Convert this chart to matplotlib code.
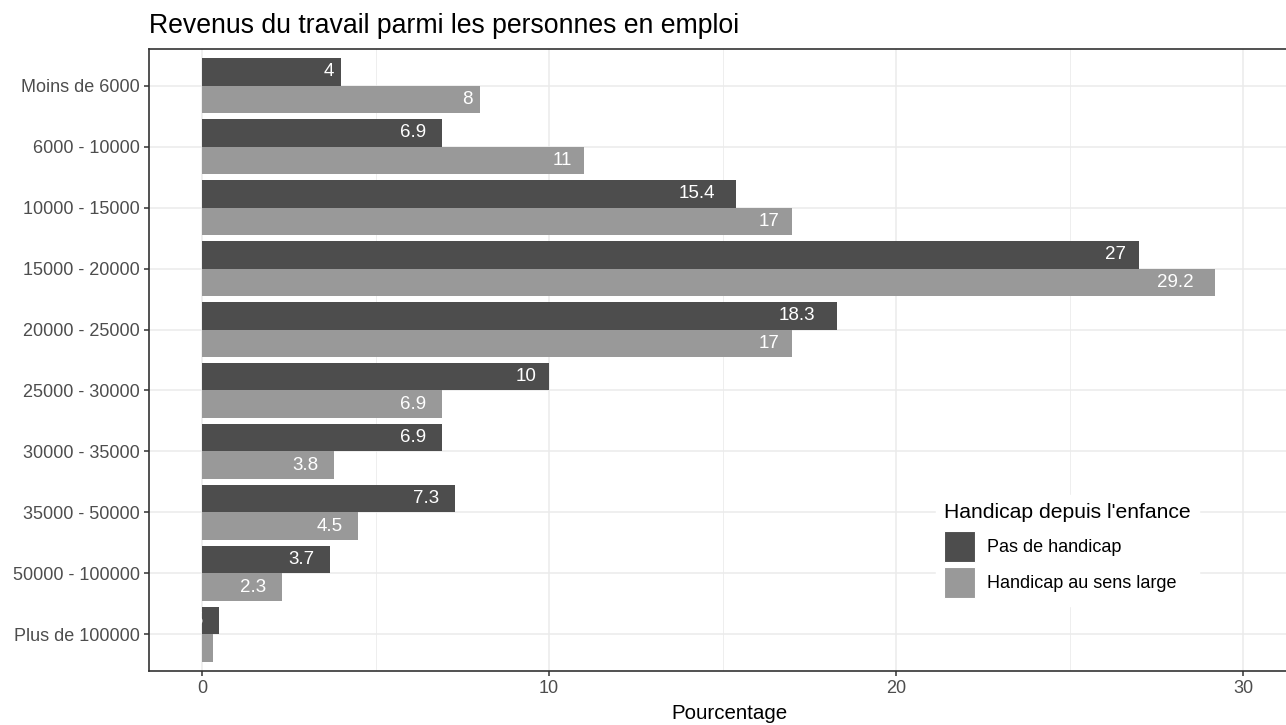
import numpy as np
import matplotlib.pyplot as plt
from matplotlib.patches import Patch
from matplotlib.transforms import ScaledTranslation

plt.rcParams['font.family'] = ['Liberation Sans', 'DejaVu Sans']

# ---- Data ----
categories = ["Moins de 6000", "6000 - 10000", "10000 - 15000", "15000 - 20000",
              "20000 - 25000", "25000 - 30000", "30000 - 35000", "35000 - 50000",
              "50000 - 100000", "Plus de 100000"]
pas_handicap = [4, 6.9, 15.4, 27, 18.3, 10, 6.9, 7.3, 3.7, 0.5]
handicap_large = [8, 11, 17, 29.2, 17, 6.9, 3.8, 4.5, 2.3, 0.3]
series_names = ["Pas de handicap", "Handicap au sens large"]
colors = ["#4D4D4D", "#999999"]

W, H = 1286, 725
fig = plt.figure(figsize=(W / 100, H / 100), dpi=100)
ax = fig.add_axes([149 / W, 54 / H, (1316 - 149) / W, (671 - 49) / H])

n = len(categories)
ypos = np.arange(1, n + 1)
h = 0.45

# dark bar on top, light below (y axis inverted)
ax.barh(ypos - h / 2, pas_handicap, height=h, color=colors[0], zorder=3)
ax.barh(ypos + h / 2, handicap_large, height=h, color=colors[1], zorder=3)

labels = []
for y, v in zip(ypos, pas_handicap):
    labels.append(ax.text(v, y - h / 2, f"{v:g}", ha="right", va="center",
                          color="white", fontsize=13.5, zorder=4))
for y, v in zip(ypos, handicap_large):
    labels.append(ax.text(v, y + h / 2, f"{v:g}", ha="right", va="center",
                          color="white", fontsize=13.5, zorder=4))

ax.set_xlim(-1.53, 32.1)
ax.set_ylim(10.6, 0.4)
ax.set_yticks(ypos)
ax.set_yticklabels(categories)
ax.set_xticks([0, 10, 20, 30])
ax.set_xticks([5, 15, 25], minor=True)
ax.tick_params(axis="both", which="major", length=3.5, width=1.1, color="#333333",
               labelcolor="#4D4D4D", labelsize=13, pad=3)
ax.tick_params(axis="x", which="minor", length=0)
ax.grid(True, which="major", color="#EBEBEB", lw=1.1, zorder=0)
ax.grid(True, which="minor", axis="x", color="#EBEBEB", lw=0.6, zorder=0)
ax.set_axisbelow(True)
for s in ax.spines.values():
    s.set_color("#333333")
    s.set_linewidth(1.2)

fig.text(729 / W, 1 - 719 / H, "Pourcentage", fontsize=14.8, ha="center", va="baseline")
fig.text(149 / W, 1 - 33 / H, "Revenus du travail parmi les personnes en emploi",
         fontsize=19.2, ha="left", va="baseline")

handles = [Patch(facecolor=c, edgecolor="white", lw=0.8) for c in colors]
leg = ax.legend(handles, series_names, title="Handicap depuis l'enfance",
                loc="upper left", bbox_to_anchor=(927 / W, 1 - 486 / H),
                bbox_transform=fig.transFigure,
                frameon=True, fancybox=False, edgecolor="white", framealpha=1,
                fontsize=13, title_fontsize=15.2, handlelength=1.72, handleheight=2.26,
                labelspacing=0.27, handletextpad=0.68, borderpad=0.45)
leg._legend_box.align = "left"
leg._legend_box.sep = 6.5  # extra room between legend title and keys
leg.set_zorder(5)

# ggplot-like hjust (> 1): shift each label left by ~half its own width
fig.canvas.draw()
r = fig.canvas.get_renderer()
for t in labels:
    w = t.get_window_extent(r).width
    t.set_transform(ax.transData + ScaledTranslation(-(0.55 * w + 1.5) / fig.dpi, 0,
                                                     fig.dpi_scale_trans))

fig.savefig("out.png", dpi=100)
